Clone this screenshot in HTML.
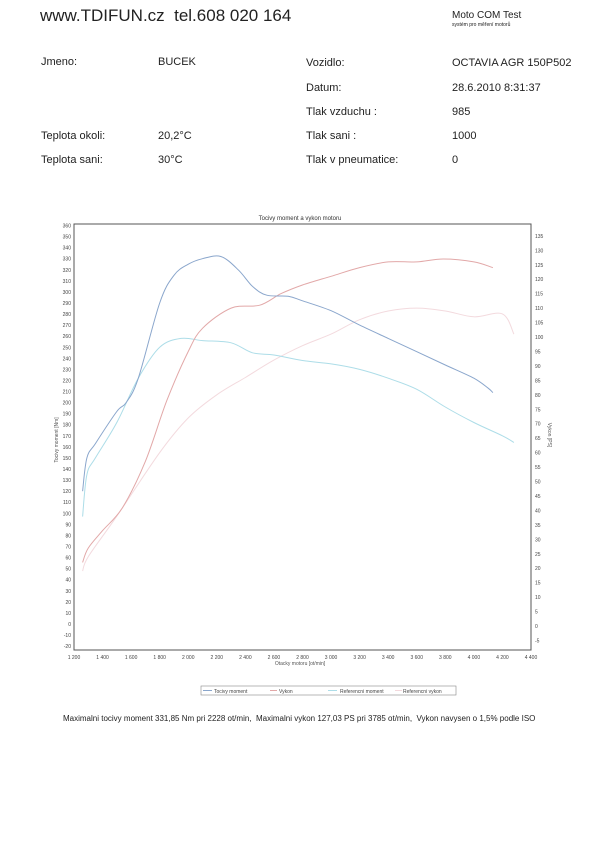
<!DOCTYPE html>
<html><head><meta charset="utf-8">
<style>
body{margin:0;background:#fff;font-family:"Liberation Sans",sans-serif;color:#222;}
#page{position:relative;width:600px;height:842px;overflow:hidden;background:#fff;}
.t{position:absolute;white-space:nowrap;font-size:11px;}
</style></head><body>
<div id="page">
<div class="t" style="left:40px;top:6px;font-size:17px;">www.TDIFUN.cz&nbsp; tel.608 020 164</div>
<div class="t" style="left:452px;top:10px;font-size:10px;">Moto COM Test</div>
<div class="t" style="left:452px;top:22px;font-size:5px;">systém pro měření motorů</div>

<div class="t" style="left:41px;top:56px;">Jmeno:</div>
<div class="t" style="left:158px;top:56px;">BUCEK</div>
<div class="t" style="left:306px;top:57px;">Vozidlo:</div>
<div class="t" style="left:452px;top:57px;">OCTAVIA AGR 150P502</div>
<div class="t" style="left:306px;top:82px;">Datum:</div>
<div class="t" style="left:452px;top:82px;">28.6.2010 8:31:37</div>
<div class="t" style="left:306px;top:106px;">Tlak vzduchu :</div>
<div class="t" style="left:452px;top:106px;">985</div>
<div class="t" style="left:41px;top:130px;">Teplota okoli:</div>
<div class="t" style="left:158px;top:130px;">20,2°C</div>
<div class="t" style="left:306px;top:130px;">Tlak sani :</div>
<div class="t" style="left:452px;top:130px;">1000</div>
<div class="t" style="left:41px;top:154px;">Teplota sani:</div>
<div class="t" style="left:158px;top:154px;">30°C</div>
<div class="t" style="left:306px;top:154px;">Tlak v pneumatice:</div>
<div class="t" style="left:452px;top:154px;">0</div>

<svg id="chart" width="600" height="842" style="position:absolute;left:0;top:0;" font-family="Liberation Sans, sans-serif">
<text x="300" y="220" font-size="6" text-anchor="middle" fill="#333">Tocivy moment a vykon motoru</text>
<rect x="74" y="224" width="457" height="426" fill="none" stroke="#555" stroke-width="1"/>
<text transform="translate(58,440) rotate(-90)" font-size="5" text-anchor="middle" fill="#555">Tocivy moment [Nm]</text>
<text transform="translate(548,435) rotate(90)" font-size="5" text-anchor="middle" fill="#555">Vykon [PS]</text>
<text x="300" y="665" font-size="5" text-anchor="middle" fill="#555">Otacky motoru [ot/min]</text>
<g id="ticks"></g><g id="series"></g>
<g>
<rect x="201" y="686" width="255" height="9" fill="none" stroke="#888" stroke-width="0.6"/>
<line x1="203" y1="690.5" x2="212" y2="690.5" stroke="#8aa6cc"/><text x="214" y="693" font-size="5" fill="#444">Tocivy moment</text>
<line x1="270" y1="690.5" x2="277" y2="690.5" stroke="#e2a8a8"/><text x="279" y="693" font-size="5" fill="#444">Vykon</text>
<line x1="328" y1="690.5" x2="337" y2="690.5" stroke="#addde8"/><text x="340" y="693" font-size="5" fill="#444">Referencni moment</text>
<line x1="395" y1="690.5" x2="402" y2="690.5" stroke="#f3d8dc"/><text x="403" y="693" font-size="5" fill="#444">Referencni vykon</text>
</g>
</svg>
<div class="t" style="left:63px;top:714px;font-size:8px;">Maximalni tocivy moment 331,85 Nm pri 2228 ot/min,&nbsp; Maximalni vykon 127,03 PS pri 3785 ot/min,&nbsp; Vykon navysen o 1,5% podle ISO</div>
</div>
<script>
const xTicks=[1200,1400,1600,1800,2000,2200,2400,2600,2800,3000,3200,3400,3600,3800,4000,4200,4400];
const yTicks=[-20,-10,0,10,20,30,40,50,60,70,80,90,100,110,120,130,140,150,160,170,180,190,200,210,220,230,240,250,260,270,280,290,300,310,320,330,340,350,360];
const y2Ticks=[-5,0,5,10,15,20,25,30,35,40,45,50,55,60,65,70,75,80,85,90,95,100,105,110,115,120,125,130,135];
const rpmTorque=[1260,1290,1350,1500,1565,1650,1800,1900,2000,2100,2228,2350,2450,2550,2700,2800,3000,3200,3400,3600,3800,4000,4100,4133];
const torque=[120,150,163,192,200,222,290,315,325,330,332,320,305,297,296,292,283,270,258,246,234,222,213,209];
const rpmPower=[1260,1300,1400,1540,1700,1850,2000,2100,2300,2500,2650,2800,3000,3200,3400,3600,3785,4000,4133];
const power=[22,27,33,41,57,78,95,103,110,111,115,118,121,124,126,126,127,126,124];
const rpmRefTorque=[1260,1290,1350,1500,1650,1800,1950,2100,2300,2450,2600,2800,3000,3200,3400,3600,3800,4000,4200,4280];
const refTorque=[97,135,150,182,222,250,258,256,254,245,243,238,235,230,222,212,196,182,170,164];
const rpmRefPower=[1260,1300,1500,1800,2000,2200,2400,2600,2800,3000,3200,3400,3600,3800,4000,4200,4280];
const refPower=[19,24,38,60,72,80,86,92,97,101,106,109,110,109,107,108,101];
const NS='http://www.w3.org/2000/svg';
const X=r=>74+(r-1200)/3200*457;
const Y=v=>624-v*1.107;
const Y2=v=>626-v*2.89;
const tg=document.getElementById('ticks');
function txt(x,y,s,anchor){const t=document.createElementNS(NS,'text');t.setAttribute('x',x);t.setAttribute('y',y);t.setAttribute('font-size','5');t.setAttribute('fill','#444');t.setAttribute('text-anchor',anchor);t.textContent=s;tg.appendChild(t);return t;}
const fmt=n=>n>=1000?String(n).replace(/(\d)(\d{3})$/,'$1 $2'):String(n);
xTicks.forEach(v=>{const t=txt(X(v),659,fmt(v),'middle');

});
yTicks.forEach(v=>{const t=txt(71,Y(v)+2,String(v),'end');

});
y2Ticks.forEach(v=>{const t=txt(535,Y2(v)+2,String(v),'start');

});
const sg=document.getElementById('series');
function line(xs,ys,fy,color,name){
const pts=xs.map((r,i)=>[X(r),fy(ys[i])]);
let d='M'+pts[0][0].toFixed(1)+','+pts[0][1].toFixed(1);
for(let i=0;i<pts.length-1;i++){
const p0=pts[Math.max(0,i-1)],p1=pts[i],p2=pts[i+1],p3=pts[Math.min(pts.length-1,i+2)];
const c1=[p1[0]+(p2[0]-p0[0])/6,p1[1]+(p2[1]-p0[1])/6];
const c2=[p2[0]-(p3[0]-p1[0])/6,p2[1]-(p3[1]-p1[1])/6];
d+=' C'+c1[0].toFixed(1)+','+c1[1].toFixed(1)+' '+c2[0].toFixed(1)+','+c2[1].toFixed(1)+' '+p2[0].toFixed(1)+','+p2[1].toFixed(1);}
const p=document.createElementNS(NS,'path');
p.setAttribute('d',d);
p.setAttribute('fill','none');p.setAttribute('stroke',color);p.setAttribute('stroke-width','1');


sg.appendChild(p);}
line(rpmRefPower,refPower,Y2,'#f3dade','ref-power-line');
line(rpmRefTorque,refTorque,Y,'#addde8','ref-torque-line');
line(rpmPower,power,Y2,'#e2a8a8','power-line');
line(rpmTorque,torque,Y,'#8aa6cc','torque-line');
</script>
</body></html>
